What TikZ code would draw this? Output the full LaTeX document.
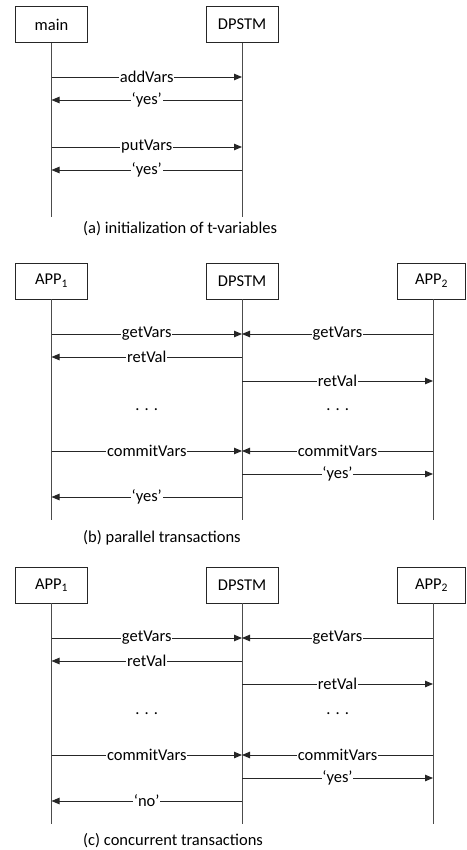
\documentclass[tikz,border=0pt]{standalone}
\usepackage{fontspec}
\setmainfont{Carlito}
\usetikzlibrary{arrows.meta}
\begin{document}
\begin{tikzpicture}[x=1pt,y=-1pt,
  actor/.style={draw=black!85, line width=0.9pt, minimum width=72pt, minimum height=36pt, inner sep=0pt, font=\fontsize{16.5}{18}\selectfont},
  life/.style={draw=black!70, line width=0.9pt},
  msg/.style={draw=black!85, line width=0.9pt, -{Triangle[length=8pt,width=6.5pt]}},
  lbl/.style={fill=white, inner sep=0.8pt, font=\fontsize{16.5}{18}\selectfont},
  captext/.style={anchor=west, inner sep=0pt, font=\fontsize{16.5}{18}\selectfont},
  dotsnode/.style={font=\fontsize{16.5}{18}\selectfont, inner sep=0pt}]
\useasboundingbox (0,0) rectangle (466,850);
\newcommand\seqmsg[4]{\draw[msg] (#1.south |- 0,#3) -- node[lbl]{#4} (#2.south |- 0,#3);}
% ---------- (a) ----------
\node[actor] (mA) at (51.5,24.5) {main};
\node[actor] (dA) at (242,24.5) {DPSTM};
\coordinate (mAe) at (51.5,217);
\coordinate (dAe) at (242,217);
\draw[life] (mA.south) -- (mAe);
\draw[life] (dA.south) -- (dAe);
\seqmsg{mA}{dA}{77}{addVars}
\seqmsg{dA}{mA}{100}{‘yes’}
\seqmsg{mA}{dA}{147}{putVars}
\seqmsg{dA}{mA}{170}{‘yes’}
\node[captext] (capA) at (83,229) {(a) initialization of t-variables};
% ---------- (b) ----------
\node[actor] (a1B) at (51.5,281) {APP\textsubscript{1}};
\node[actor] (dB) at (242,281) {DPSTM};
\node[actor, minimum width=68pt] (a2B) at (431.5,281) {APP\textsubscript{2}};
\coordinate (a1Be) at (51.5,520);
\coordinate (dBe) at (242,520);
\coordinate (a2Be) at (433,520);
\draw[life] (a1B.south) -- (a1Be);
\draw[life] (dB.south) -- (dBe);
\draw[life] (a2Be |- a2B.south) -- (a2Be);
\coordinate (a2Bl) at (433,300);
\seqmsg{a1B}{dB}{334}{getVars}
\seqmsg{a2Bl}{dB}{334}{getVars}
\seqmsg{dB}{a1B}{357}{retVal}
\seqmsg{dB}{a2Bl}{381}{retVal}
\node[dotsnode] (dotsB1) at (146.7,410) {.\hspace{5pt}.\hspace{5pt}.};
\node[dotsnode] (dotsB2) at (337.7,410) {.\hspace{5pt}.\hspace{5pt}.};
\seqmsg{a1B}{dB}{451}{commitVars}
\seqmsg{a2Bl}{dB}{451}{commitVars}
\seqmsg{dB}{a2Bl}{474}{‘yes’}
\seqmsg{dB}{a1B}{497}{‘yes’}
\node[captext] (capB) at (83,538) {(b) parallel transactions};
% ---------- (c) ----------
\node[actor] (a1C) at (51.5,585) {APP\textsubscript{1}};
\node[actor] (dC) at (242,585) {DPSTM};
\node[actor, minimum width=68pt] (a2C) at (431.5,585) {APP\textsubscript{2}};
\coordinate (a1Ce) at (51.5,824);
\coordinate (dCe) at (242,824);
\coordinate (a2Ce) at (433,824);
\draw[life] (a1C.south) -- (a1Ce);
\draw[life] (dC.south) -- (dCe);
\draw[life] (a2Ce |- a2C.south) -- (a2Ce);
\coordinate (a2Cl) at (433,603);
\seqmsg{a1C}{dC}{638}{getVars}
\seqmsg{a2Cl}{dC}{638}{getVars}
\seqmsg{dC}{a1C}{661}{retVal}
\seqmsg{dC}{a2Cl}{684}{retVal}
\node[dotsnode] (dotsC1) at (146.7,714) {.\hspace{5pt}.\hspace{5pt}.};
\node[dotsnode] (dotsC2) at (337.7,714) {.\hspace{5pt}.\hspace{5pt}.};
\seqmsg{a1C}{dC}{755}{commitVars}
\seqmsg{a2Cl}{dC}{755}{commitVars}
\seqmsg{dC}{a2Cl}{778}{‘yes’}
\seqmsg{dC}{a1C}{801}{‘no’}
\node[captext] (capC) at (83,841) {(c) concurrent transactions};
\end{tikzpicture}
\end{document}
